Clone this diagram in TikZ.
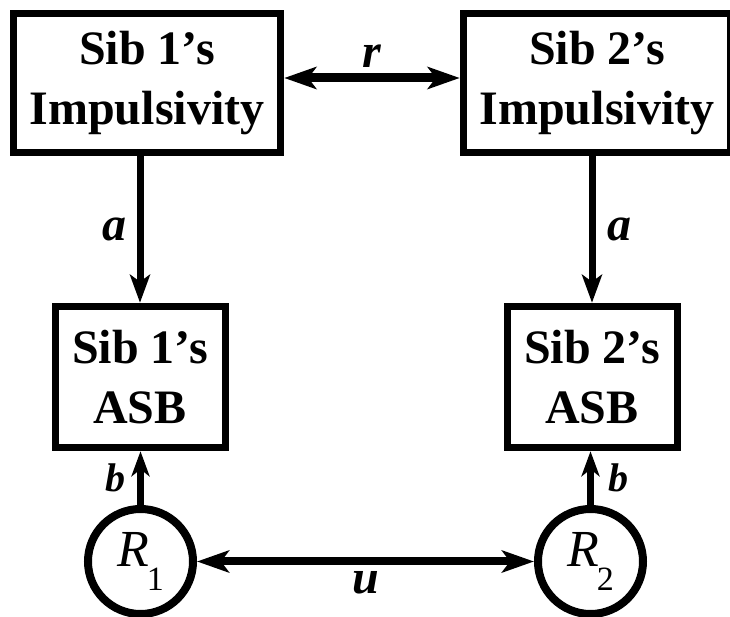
\documentclass[tikz,border=0pt]{standalone}
\usepackage{fontspec}
\setmainfont{Liberation Serif}
\usetikzlibrary{arrows.meta}

% latent residual with a dropped index
\newcommand{\resvar}[2]{\textit{#1}\kern-1pt\raisebox{-0.45em}{\fontsize{17}{17}\selectfont #2}}

\begin{document}
\begin{tikzpicture}[x=0.5pt, y=0.5pt,
  sibbox/.style={draw, line width=3.5pt, align=center, inner sep=0pt,
    font=\fontsize{24}{30}\selectfont\bfseries},
  resid/.style={draw, circle, line width=4pt, minimum size=52.5pt, inner sep=0pt,
    font=\fontsize{26}{26}\selectfont},
  oneway/.style={line width=3.5pt, -{Stealth[length=14pt, width=10pt, inset=3.5pt]}},
  twoway/.style={line width=4.5pt,
    {Stealth[length=16pt, width=11pt, inset=4pt]}-{Stealth[length=16pt, width=11pt, inset=4pt]}},
  coef/.style={font=\fontsize{24}{24}\selectfont\bfseries\itshape}]
  \useasboundingbox (0,0) rectangle (730,617);
  % impulsivity of each sibling
  \node[sibbox, minimum width=133.75pt, minimum height=69.5pt] (imp1) at (147,534) {Sib 1’s\\Impulsivity};
  \node[sibbox, minimum width=133.75pt, minimum height=69.5pt] (imp2) at (597,534) {Sib 2’s\\Impulsivity};
  % antisocial behaviour
  \node[sibbox, minimum width=85pt, minimum height=70.75pt] (asb1) at (140,240) {Sib 1’s\\ASB};
  \node[sibbox, minimum width=85pt, minimum height=70.75pt] (asb2) at (592,240) {Sib 2’s\\ASB};
  % residuals
  \node[resid] (res1) at (140.5,55.5) {\resvar{R}{1}};
  \node[resid] (res2) at (590.5,55.5) {\resvar{R}{2}};

  \draw[twoway] ([yshift=2.5pt]imp1.east) -- ([yshift=2.5pt]imp2.west)
    node[midway, above, inner sep=3pt, coef] (rlab) {r};
  \draw[oneway] (imp1.south -| asb1.north) -- (asb1.north)
    node[midway, left, inner sep=5pt, coef] (alab1) {a};
  \draw[oneway] (imp2.south -| asb2.north) -- (asb2.north)
    node[midway, right, inner sep=6pt, coef] (alab2) {a};
  \draw[oneway, -{Stealth[length=12.5pt, width=9pt, inset=3.5pt]}] (res1.north) -- (res1.north |- asb1.south)
    node[midway, left, inner sep=6pt, coef, font=\fontsize{20}{20}\selectfont\bfseries\itshape] (blab1) {b};
  \draw[oneway, -{Stealth[length=12.5pt, width=9pt, inset=3.5pt]}] (res2.north) -- (res2.north |- asb2.south)
    node[midway, right, inner sep=7pt, coef, font=\fontsize{20}{20}\selectfont\bfseries\itshape] (blab2) {b};
  \draw[twoway, line width=4pt] (res1.east) -- (res2.west)
    node[midway, below, inner sep=3pt, coef] (ulab) {u};
\end{tikzpicture}
\end{document}
